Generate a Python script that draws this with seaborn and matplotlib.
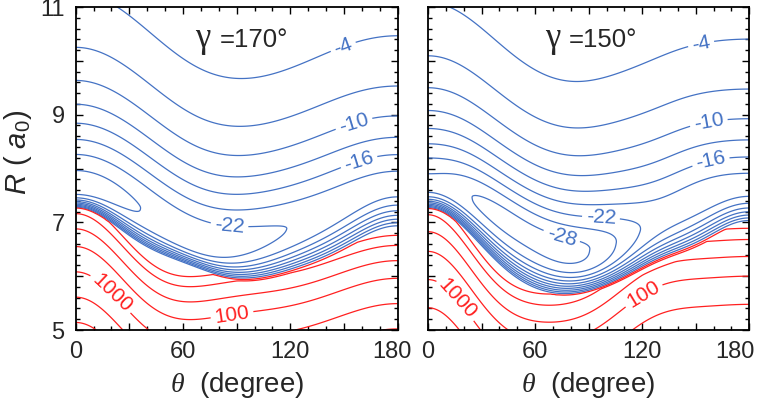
import numpy as np
import seaborn as sns
import matplotlib
matplotlib.use("Agg")
import matplotlib.pyplot as plt
import matplotlib.transforms as mtransforms
from matplotlib.ticker import MultipleLocator

theta_nodes = [0, 30, 60, 90, 120, 150, 180]

# gamma = 170 deg panel
c6_170 = [8.5, 6.2, 4.33, 3.27, 3.74, 4.69, 5.27]     # far field C6 (x1e6)
depth_170 = [27.0, 25.4, 24.5, 23.6, 22.0, 21.0, 20.5]
rmin_170 = [7.62, 7.38, 6.78, 6.62, 6.90, 7.35, 7.68]
rzero_170 = [7.26, 6.74, 6.25, 5.92, 6.06, 6.49, 6.90]
kin_170 = [2.5, 3.0, 3.0, 3.0, 2.6, 2.2, 2.0]          # inner wall shape
r100_170 = [6.55, 5.81, 5.20, 5.30, 5.45, 5.75, 5.96]

# gamma = 150 deg panel
c6_150 = [7.9, 5.2, 3.7, 3.29, 3.82, 4.78, 5.12]
depth_150 = [26.5, 28.4, 28.8, 28.2, 22.3, 20.8, 20.5]
rmin_150 = [7.65, 7.38, 6.78, 6.50, 6.85, 7.40, 7.65]
rzero_150 = [7.25, 6.55, 5.76, 5.70, 6.02, 6.50, 7.00]
kin_150 = [2.5, 3.0, 3.2, 3.2, 2.8, 2.3, 2.0]
r100_150 = [6.46, 5.50, 4.80, 4.95, 5.65, 5.95, 6.00]

blue_levels = [-28, -25, -22, -19, -16, -13, -10, -7, -4, -1]
red_levels = [2, 5, 20, 100, 1000, 10000, 100000]

labels_170 = {-4: (148, 10.4), -10: (154, 9.0), -16: (157, 8.27), -22: (86, 6.95),
              100: (87, 5.37), 1000: (22, 5.75)}
labels_150 = {-4: (152, 10.48), -10: (156, 9.1), -16: (157, 8.35), -22: (97, 7.15),
              -28: (73, 6.52), 100: (117, 5.85), 1000: (19, 5.65)}


def smooth(vals, th, order=6):
    # cosine series through (or fitted to) the node values
    t = np.radians(theta_nodes)
    k = np.arange(order + 1)
    coef = np.linalg.lstsq(np.cos(np.outer(t, k)), np.asarray(vals, float), rcond=None)[0]
    return np.cos(np.outer(np.radians(th), k)) @ coef


def pes(R, th, c6, de, rm, r0, kin, r100, b):
    C = np.exp(smooth(np.log(c6), th, 3))[None, :] * 1e6
    De = smooth(de, th)[None, :]
    Rm = smooth(rm, th)[None, :]
    R0 = smooth(r0, th)[None, :]
    K = smooth(kin, th)[None, :]
    Rw = smooth(r100, th)[None, :]
    R = R[:, None]
    q = np.maximum(C / (De * Rm**6) - 1, 0.05)
    p = 6 + 6 / q
    x = R / Rm
    outer = -De * ((1 + q) * x**-6 - q * x**-p)
    t = np.clip((R - R0) / (Rm - R0), 0, 1)
    inner = -De * (1 - (1 - t)**K)
    well = np.where(R >= Rm, outer, inner)
    return well + 100 * np.exp(-b * (R - Rw))


sns.set_style("ticks")
plt.rcParams['font.family'] = ['Liberation Sans', 'DejaVu Sans']
plt.rcParams['mathtext.fontset'] = 'custom'
plt.rcParams['mathtext.rm'] = 'Liberation Sans'
plt.rcParams['mathtext.it'] = 'Liberation Serif:italic'
plt.rcParams['mathtext.sf'] = 'Liberation Sans:italic'

blue = '#4472C4'
red = '#FF2020'

theta = np.linspace(0, 180, 361)
R = np.linspace(5, 11, 601)

fig = plt.figure(figsize=(7.63, 4.12), dpi=100)
ax1 = fig.add_axes([0.0992, 0.199, 0.422, 0.784])
ax2 = fig.add_axes([0.561, 0.199, 0.421, 0.784])

panels = [(ax1, (c6_170, depth_170, rmin_170, rzero_170, kin_170, r100_170, 4.9),
           labels_170, "=170°", 0.371, 0.446),
          (ax2, (c6_150, depth_150, rmin_150, rzero_150, kin_150, r100_150, 4.4),
           labels_150, "=150°", 0.364, 0.439)]

for ax, pars, labs, gam, xg, xe in panels:
    V = pes(R, theta, *pars)
    for lev in blue_levels + red_levels:
        col = blue if lev < 0 else red
        cs = ax.contour(theta, R, V, levels=[lev], colors=col, linewidths=0.9,
                        linestyles='solid')
        if lev in labs:
            ax.clabel(cs, manual=[labs[lev]], fmt='%d', fontsize=15,
                      inline=True, inline_spacing=4)

    ax.set_xlim(0, 180)
    ax.set_ylim(5, 11)
    ax.set_xticks([0, 30, 60, 90, 120, 150, 180])
    ax.set_xticklabels(['0', '', '60', '', '120', '', '180'])
    ax.xaxis.set_minor_locator(MultipleLocator(10))
    ax.set_yticks([5, 6, 7, 8, 9, 10, 11])
    ax.yaxis.set_minor_locator(MultipleLocator(0.2))
    ax.tick_params(which='both', direction='in', top=True, right=True,
                   labelsize=17, width=1.0, color='black', pad=8)
    ax.tick_params(which='major', length=5)
    ax.tick_params(which='minor', length=3)
    for s in ax.spines.values():
        s.set_linewidth(1.3)
        s.set_color('black')
    ax.set_xlabel(r"$\theta$  (degree)", fontsize=20, labelpad=5)
    ax.text(xg, 0.876, "γ", transform=ax.transAxes, fontsize=25,
            family=['Liberation Serif', 'DejaVu Serif'], va='baseline', ha='left')
    ax.text(xe, 0.876, gam, transform=ax.transAxes, fontsize=18.5,
            va='baseline', ha='left')

ax1.set_yticklabels(['5', '', '7', '', '9', '', '11'])
ax2.set_yticklabels([])
ax1.set_ylabel(r"$\mathsf{R}$ ( $\mathsf{a}_\mathrm{0}$)", fontsize=21)
ax1.yaxis.set_label_coords(-0.13, 0.55)

# pull the last tick labels a little inward, as in the reference
for ax, dx in [(ax1, -6), (ax2, -14)]:
    lab = ax.get_xticklabels()[-1]
    lab.set_transform(lab.get_transform() +
                      mtransforms.ScaledTranslation(dx / 100, 0, fig.dpi_scale_trans))

fig.savefig("out.png", dpi=100)
